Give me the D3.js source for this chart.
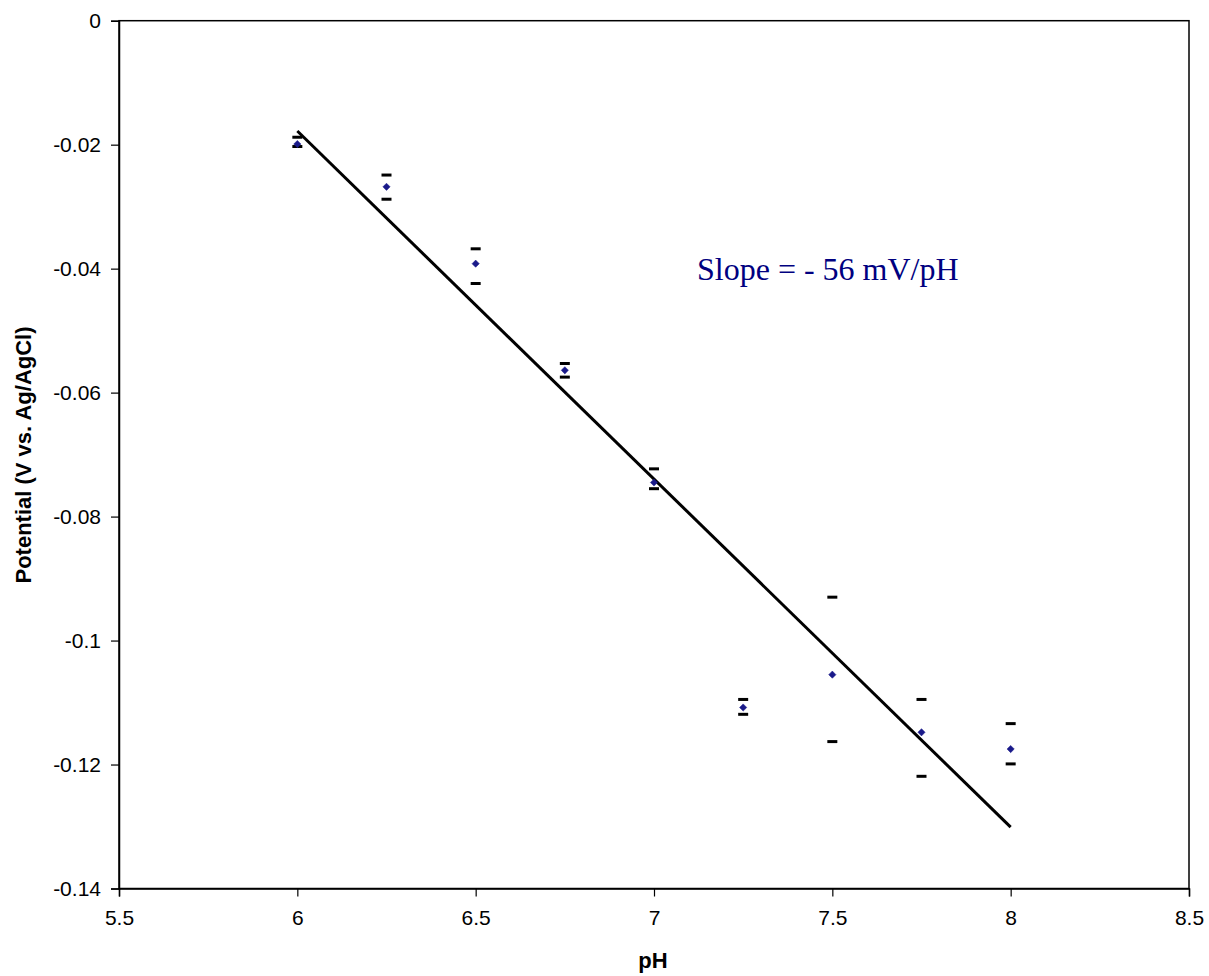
<!DOCTYPE html>
<html>
<head>
<meta charset="utf-8">
<script src="https://cdn.jsdelivr.net/npm/d3@7"></script>
<style>
  html, body { margin: 0; padding: 0; background: #fff; }
  svg { display: block; }
</style>
</head>
<body>
<svg id="chart" width="1209" height="976"></svg>
<script>
// ---- data ----
const pH        = [6, 6.25, 6.5, 6.75, 7, 7.25, 7.5, 7.75, 8];
const potential = [-0.0199, -0.0268, -0.0392, -0.0564, -0.0745, -0.1108, -0.1055, -0.1148, -0.1175];
const errUpper  = [-0.0188, -0.0249, -0.0368, -0.0553, -0.0723, -0.1095, -0.0930, -0.1095, -0.1134];
const errLower  = [-0.0203, -0.0288, -0.0424, -0.0575, -0.0755, -0.1119, -0.1163, -0.1219, -0.1199];
const fitPH     = [6, 8];
const fitV      = [-0.0178, -0.1301];
const xTicks    = [5.5, 6, 6.5, 7, 7.5, 8, 8.5];
const yTicks    = [0, -0.02, -0.04, -0.06, -0.08, -0.1, -0.12, -0.14];
const annotation = "Slope = - 56 mV/pH";

// ---- layout ----
const svg = d3.select("#chart");
const L = 119, R = 1189, T = 20.7, B = 888.5;

const x = d3.scaleLinear().domain([5.5, 8.5]).range([L, R]);
const y = d3.scaleLinear().domain([-0.14, 0]).range([B, T]);

// plot border
svg.append("rect")
  .attr("x", L).attr("y", T).attr("width", R - L).attr("height", B - T)
  .attr("fill", "none").attr("stroke", "#000").attr("stroke-width", 1.5);

// axes
const fmtY = d => d === 0 ? "0" : String(+d.toFixed(2));
const yAxis = svg.append("g").attr("transform", `translate(${L},0)`)
  .call(d3.axisLeft(y).tickValues(yTicks).tickFormat(fmtY).tickSizeOuter(0).tickSize(8).tickPadding(10));
const xAxis = svg.append("g").attr("transform", `translate(0,${B})`)
  .call(d3.axisBottom(x).tickValues(xTicks).tickFormat(d => String(d)).tickSizeOuter(0).tickSize(8).tickPadding(14));

[yAxis, xAxis].forEach(g => {
  g.select(".domain").attr("stroke", "#000").attr("stroke-width", 1.5);
  g.selectAll(".tick line").attr("stroke", "#000").attr("stroke-width", 1.2);
  g.selectAll(".tick text")
    .attr("fill", "#000")
    .style("font-family", "Liberation Sans, Arial, sans-serif")
    .style("font-size", "21px");
});

// axis titles
svg.append("text")
  .attr("x", (L + R) / 2 - 1).attr("y", 968)
  .attr("text-anchor", "middle")
  .style("font-family", "Liberation Sans, Arial, sans-serif")
  .style("font-size", "22px").style("font-weight", "bold")
  .text("pH");

svg.append("text")
  .attr("transform", `translate(31,${455}) rotate(-90)`)
  .attr("text-anchor", "middle")
  .style("font-family", "Liberation Sans, Arial, sans-serif")
  .style("font-size", "22px").style("font-weight", "bold")
  .text("Potential (V vs. Ag/AgCl)");

// fit line
const fitData = fitPH.map((p, i) => ({ p, v: fitV[i] }));
svg.append("path")
  .datum(fitData)
  .attr("fill", "none").attr("stroke", "#000").attr("stroke-width", 3)
  .attr("d", d3.line().x(d => x(d.p)).y(d => y(d.v)));

// error bar caps
const pts = pH.map((p, i) => ({ p, v: potential[i], hi: errUpper[i], lo: errLower[i] }));
const capW = 10;
const caps = svg.append("g");
pts.forEach(d => {
  [d.hi, d.lo].forEach(c => {
    caps.append("line")
      .attr("x1", x(d.p) - capW / 2).attr("x2", x(d.p) + capW / 2)
      .attr("y1", y(c)).attr("y2", y(c))
      .attr("stroke", "#000").attr("stroke-width", 3);
  });
});

// markers (square diamond)
svg.append("g").selectAll("path")
  .data(pts).join("path")
  .attr("transform", d => `translate(${x(d.p)},${y(d.v)}) rotate(45)`)
  .attr("d", d3.symbol().type(d3.symbolSquare).size(26))
  .attr("fill", "#1a1a8a").attr("stroke", "#1a1a8a").attr("stroke-width", 0.5);

// annotation
svg.append("text")
  .attr("x", 697).attr("y", 280)
  .style("font-family", "Liberation Serif, Times New Roman, serif")
  .style("font-size", "32px")
  .attr("fill", "#000080")
  .text(annotation);
</script>
</body>
</html>
